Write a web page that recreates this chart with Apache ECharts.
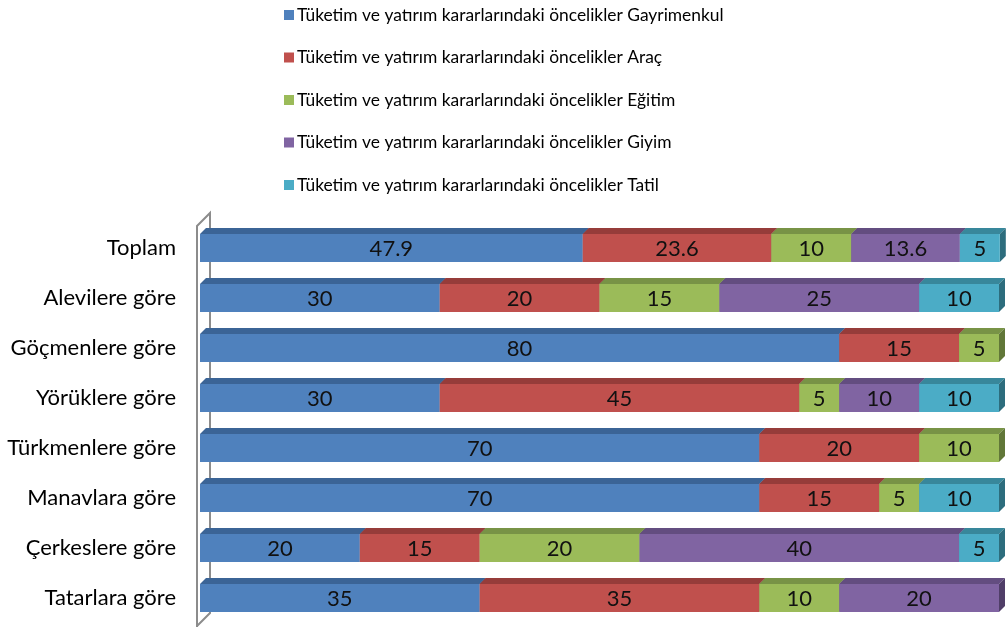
<!DOCTYPE html>
<html lang="tr">
<head>
    <meta charset="UTF-8">
    <title>Tüketim ve yatırım kararlarındaki öncelikler</title>
    <script src="https://cdn.jsdelivr.net/npm/echarts@6/dist/echarts.min.js"></script>
    <style>
        html, body { margin: 0; padding: 0; background: #fff; }
    </style>
</head>
<body>
<div id="main" style="width: 1008px;height:627px;"></div>
<script type="text/javascript">
    // kategoriler (yukarıdan aşağıya)
    var categories = ['Toplam', 'Alevilere göre', 'Göçmenlere göre', 'Yörüklere göre',
        'Türkmenlere göre', 'Manavlara göre', 'Çerkeslere göre', 'Tatarlara göre'];

    var seriesNames = [
        'Tüketim ve yatırım kararlarındaki öncelikler Gayrimenkul',
        'Tüketim ve yatırım kararlarındaki öncelikler Araç',
        'Tüketim ve yatırım kararlarındaki öncelikler Eğitim',
        'Tüketim ve yatırım kararlarındaki öncelikler Giyim',
        'Tüketim ve yatırım kararlarındaki öncelikler Tatil'
    ];

    var gayrimenkul = [47.9, 30, 80, 30, 70, 70, 20, 35];
    var arac        = [23.6, 20, 15, 45, 20, 15, 15, 35];
    var egitim      = [10, 15, 5, 5, 10, 5, 20, 10];
    var giyim       = [13.6, 25, null, 10, null, null, 40, 20];
    var tatil       = [5, 10, null, 10, null, 10, 5, null];

    var colors     = ['#4F81BD', '#C0504D', '#9BBB59', '#8064A2', '#4BACC6'];
    var topColors  = ['#3B6496', '#963C3A', '#789346', '#634D80', '#38879B'];
    var sideColors = ['#2F5079', '#7A302F', '#617738', '#503E68', '#2D6D7D'];

    var allValues = [gayrimenkul, arac, egitim, giyim, tatil];

    // yığılmış başlangıç / bitiş değerleri
    var cum = categories.map(function () { return 0; });
    var stacked = allValues.map(function (vals) {
        var out = [];
        vals.forEach(function (v, i) {
            if (v == null) return;
            out.push([i, cum[i], cum[i] + v, v]);
            cum[i] += v;
        });
        return out;
    });

    var myChart = echarts.init(document.getElementById('main'));

    function makeRender(idx) {
        return function (params, api) {
            var cat = api.value(0);
            var p0 = api.coord([api.value(1), cat]);
            var p1 = api.coord([api.value(2), cat]);
            var h = 28, dx = 6, dy = 6;
            var yT = p0[1] - h / 2;
            var x0 = p0[0], x1 = p1[0];
            return {
                type: 'group',
                children: [{
                    type: 'polygon',
                    shape: {points: [[x0, yT], [x1, yT], [x1 + dx, yT - dy], [x0 + dx, yT - dy]]},
                    style: {fill: topColors[idx]}
                }, {
                    type: 'polygon',
                    shape: {points: [[x1, yT], [x1 + dx, yT - dy], [x1 + dx, yT + h - dy], [x1, yT + h]]},
                    style: {fill: sideColors[idx]}
                }, {
                    type: 'rect',
                    shape: {x: x0, y: yT, width: x1 - x0, height: h},
                    style: {fill: colors[idx]}
                }, {
                    type: 'text',
                    style: {
                        text: String(api.value(3)),
                        x: (x0 + x1) / 2,
                        y: yT + h / 2 + 1,
                        align: 'center',
                        verticalAlign: 'middle',
                        fontSize: 22,
                        fontFamily: 'Lato',
                        fill: '#111'
                    }
                }]
            };
        };
    }

    var option = {
        animation: false,
        textStyle: {fontFamily: 'Lato'},
        legend: {
            orient: 'vertical',
            left: 279,
            top: 0,
            icon: 'rect',
            itemWidth: 10,
            itemHeight: 10,
            itemGap: 22.5,
            textStyle: {fontSize: 17.4, color: '#000', lineHeight: 20, padding: [0, 0, 0, -2]},
            data: seriesNames
        },
        grid: {left: 200, right: 9, top: 223, bottom: 4},
        xAxis: {
            type: 'value', min: 0, max: 100,
            show: false
        },
        yAxis: {
            type: 'category',
            data: categories,
            inverse: true,
            axisLine: {show: false},
            axisTick: {show: false},
            axisLabel: {fontSize: 22, color: '#000', margin: 24, fontFamily: 'Lato'}
        },
        graphic: [{
            type: 'polyline',
            shape: {points: [[197, 640], [197, 226], [210, 213], [210, 613], [197, 626]]},
            style: {stroke: '#8c8c8c', lineWidth: 2, fill: null},
            z: 0
        }],
        series: stacked.map(function (d, i) {
            return {
                name: seriesNames[i],
                type: 'custom',
                itemStyle: {color: colors[i]},
                renderItem: makeRender(i),
                encode: {x: [1, 2], y: 0},
                data: d,
                z: 2
            };
        })
    };

    myChart.setOption(option);
</script>
</body>
</html>
